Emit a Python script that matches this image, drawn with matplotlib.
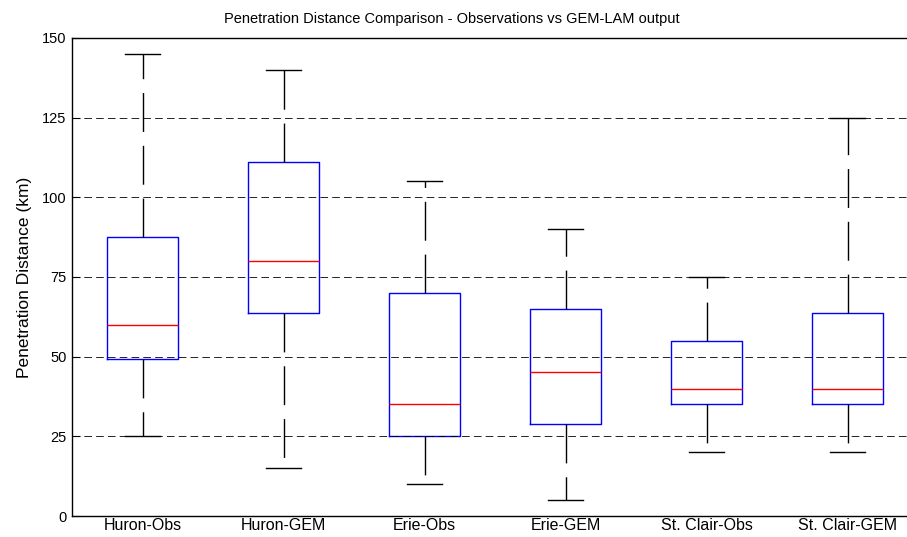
import matplotlib
matplotlib.use("Agg")
import matplotlib.pyplot as plt

# ── Box statistics (km) ───────────────────────────────────────────────────────
LABELS  = ["Huron-Obs", "Huron-GEM", "Erie-Obs", "Erie-GEM", "St. Clair-Obs", "St. Clair-GEM"]
WHISLO  = [25.0, 15.0, 10.0,  5.0, 20.0,  20.0]
Q1      = [49.3, 63.8, 25.0, 28.8, 35.0,  35.0]
MEDIAN  = [60.0, 80.0, 35.0, 45.3, 40.0,  40.0]
Q3      = [87.5, 111.2, 70.0, 65.0, 55.0, 63.8]
WHISHI  = [145.0, 140.0, 105.0, 90.0, 75.0, 125.0]
YTICKS  = [0, 25, 50, 75, 100, 125, 150]

plt.rcParams["font.family"] = ["Liberation Sans", "DejaVu Sans"]
plt.rcParams["lines.scale_dashes"] = False

stats = [dict(label=l, whislo=lo, q1=a, med=m, q3=b, whishi=hi)
         for l, lo, a, m, b, hi in zip(LABELS, WHISLO, Q1, MEDIAN, Q3, WHISHI)]

fig = plt.figure(figsize=(9.07, 5.37), dpi=100)
ax = fig.add_axes([72 / 907, 1 - 516 / 537, 846 / 907, 478 / 537])

ax.bxp(stats, positions=range(1, len(stats) + 1), widths=0.5, capwidths=0.25,
       showfliers=False,
       boxprops=dict(color="#0000ff", linewidth=1.0),
       medianprops=dict(color="#ff0000", linewidth=1.0),
       whiskerprops=dict(color="black", linewidth=1.0, linestyle=(0, (28, 10))),
       capprops=dict(color="black", linewidth=1.0))

ax.set_xlim(0.5, len(stats) + 0.5)
ax.set_ylim(0, 150)
ax.set_yticks(YTICKS)
ax.yaxis.grid(True, color="black", linestyle=(0, (5.5, 3)), linewidth=0.6)
ax.set_axisbelow(False)

ax.tick_params(axis="y", direction="in", length=6, labelsize=10.5, pad=4)
ax.tick_params(axis="x", length=0, labelsize=11.5, pad=1.5)
for s in ax.spines.values():
    s.set_linewidth(1.0)

ax.set_ylabel("Penetration Distance (km)", fontsize=12.5, labelpad=7)
ax.set_title("Penetration Distance Comparison - Observations vs GEM-LAM output",
             fontsize=10.5, pad=11, x=(452 - 72) / 846)

fig.savefig("out.png", dpi=100)
